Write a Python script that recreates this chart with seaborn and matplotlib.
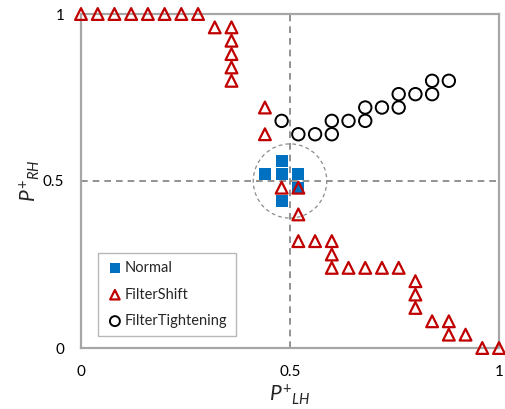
import matplotlib
matplotlib.use("Agg")
import matplotlib.pyplot as plt
from matplotlib.patches import Ellipse
import seaborn as sns
import pandas as pd

# ---- data ----
normal_x = [0.44, 0.48, 0.48, 0.52, 0.52, 0.48]
normal_y = [0.52, 0.56, 0.52, 0.52, 0.48, 0.44]

shift_x = [0.00, 0.04, 0.08, 0.12, 0.16, 0.20, 0.24, 0.28,
           0.32, 0.36, 0.36, 0.36, 0.36, 0.36,
           0.44, 0.44, 0.48, 0.52, 0.52,
           0.52, 0.56, 0.60, 0.60, 0.60,
           0.64, 0.68, 0.72, 0.76,
           0.80, 0.80, 0.80, 0.84, 0.88, 0.88, 0.92, 0.96, 1.00]
shift_y = [1.00, 1.00, 1.00, 1.00, 1.00, 1.00, 1.00, 1.00,
           0.96, 0.96, 0.92, 0.88, 0.84, 0.80,
           0.72, 0.64, 0.48, 0.48, 0.40,
           0.32, 0.32, 0.32, 0.28, 0.24,
           0.24, 0.24, 0.24, 0.24,
           0.20, 0.16, 0.12, 0.08, 0.08, 0.04, 0.04, 0.00, 0.00]

tight_x = [0.48, 0.52, 0.56, 0.60, 0.60, 0.64, 0.68, 0.68, 0.72, 0.76, 0.76, 0.80, 0.84, 0.84, 0.88]
tight_y = [0.68, 0.64, 0.64, 0.64, 0.68, 0.68, 0.68, 0.72, 0.72, 0.72, 0.76, 0.76, 0.76, 0.80, 0.80]

series_names = ["Normal", "FilterShift", "FilterTightening"]
tick_values = [0, 0.5, 1]
tick_labels = ["0", "0.5", "1"]

circle_center = (0.5, 0.5)
circle_w, circle_h = 0.176, 0.222

# ---- style ----
sns.set_style("white")
plt.rcParams['font.family'] = ['Lato', 'DejaVu Sans']
plt.rcParams['mathtext.fontset'] = 'custom'
plt.rcParams['mathtext.it'] = 'Lato:italic'
plt.rcParams['mathtext.rm'] = 'Lato'

fig = plt.figure(figsize=(5.05, 4.09), dpi=100)
ax = fig.add_axes([81/505, 1-348/409, 418/505, 334/409])

df = pd.concat([
    pd.DataFrame({"x": normal_x, "y": normal_y, "series": series_names[0]}),
    pd.DataFrame({"x": shift_x, "y": shift_y, "series": series_names[1]}),
    pd.DataFrame({"x": tight_x, "y": tight_y, "series": series_names[2]}),
])

ax.axvline(0.5, color="#7f7f7f", lw=1.2, ls=(0, (4, 3)), zorder=1)
ax.axhline(0.5, color="#7f7f7f", lw=1.2, ls=(0, (4, 3)), zorder=1)
ax.add_patch(Ellipse(circle_center, circle_w, circle_h, fill=False,
                     edgecolor="#8c8c8c", lw=0.9, ls=(0, (3, 2.5)), zorder=1))

sns.scatterplot(data=df[df.series == "Normal"], x="x", y="y", marker="s",
                color="#0070C0", s=80, linewidth=0, ax=ax, zorder=3,
                label="Normal", clip_on=False)
sns.scatterplot(data=df[df.series == "FilterShift"], x="x", y="y", marker="^",
                facecolor="none", edgecolor="#C00000", s=72, linewidth=1.6,
                ax=ax, zorder=4, label="FilterShift", clip_on=False)
sns.scatterplot(data=df[df.series == "FilterTightening"], x="x", y="y", marker="o",
                facecolor="none", edgecolor="black", s=80, linewidth=1.4,
                ax=ax, zorder=4, label="FilterTightening", clip_on=False)

ax.set_xlim(0, 1)
ax.set_ylim(0, 1)
ax.set_xticks(tick_values)
ax.set_xticklabels(tick_labels)
ax.set_yticks(tick_values)
ax.set_yticklabels(tick_labels)
ax.tick_params(axis="both", length=0, labelsize=11, colors="black")
ax.tick_params(axis="x", pad=12)
ax.tick_params(axis="y", pad=12)
for sp in ax.spines.values():
    sp.set_color("#a6a6a6")
    sp.set_linewidth(1.6)

ax.set_xlabel(r"$P^{+}{}_{LH}$", fontsize=15, labelpad=3)
ax.set_ylabel(r"$P^{+}{}_{RH}$", fontsize=15, labelpad=1)

leg = ax.legend(loc="lower left", bbox_to_anchor=(0.041, 0.036), fontsize=10.5,
                frameon=True, fancybox=False, borderpad=0.55, labelspacing=0.85,
                handletextpad=0.1, handlelength=1.2, borderaxespad=0,
                markerscale=0.8)
leg.get_frame().set_edgecolor("#a6a6a6")
leg.get_frame().set_linewidth(1.0)

fig.savefig("out.png", dpi=100)
